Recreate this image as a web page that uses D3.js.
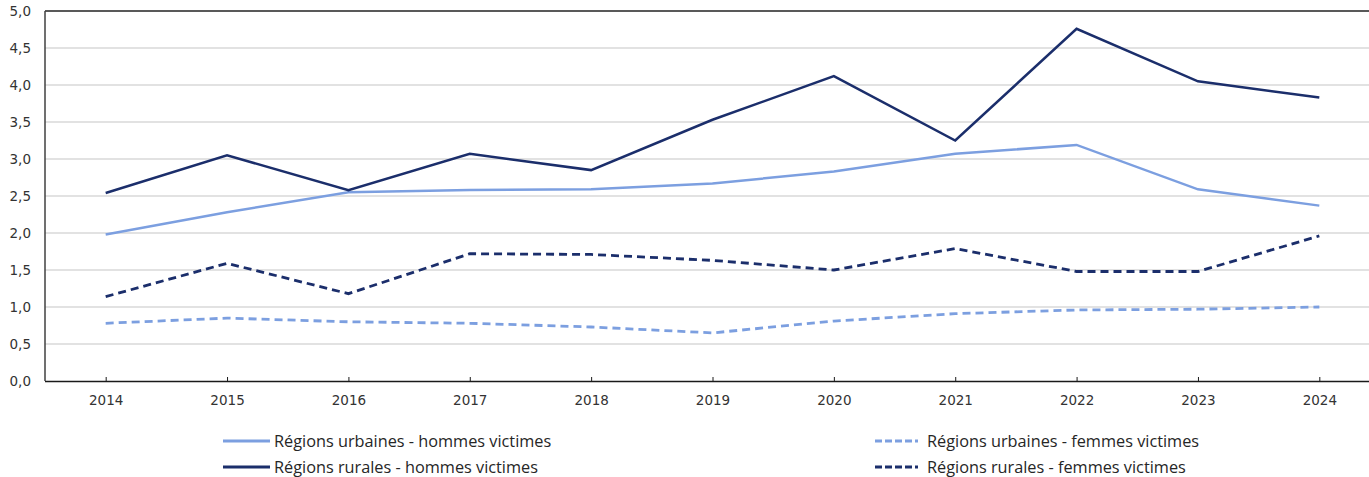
<!DOCTYPE html>
<html>
<head>
<meta charset="utf-8">
<script src="https://cdn.jsdelivr.net/npm/d3@7"></script>
<style>
  html, body { margin: 0; padding: 0; background: #fff; }
  svg { display: block; }
</style>
</head>
<body>
<svg id="chart" width="1369" height="477"></svg>
<script>
const years = ["2014","2015","2016","2017","2018","2019","2020","2021","2022","2023","2024"];
const urbainsHommes = [1.98, 2.28, 2.55, 2.58, 2.59, 2.67, 2.83, 3.07, 3.19, 2.59, 2.37];
const urbainsFemmes = [0.78, 0.85, 0.80, 0.78, 0.73, 0.65, 0.81, 0.91, 0.96, 0.97, 1.00];
const ruralesHommes = [2.54, 3.05, 2.58, 3.07, 2.85, 3.53, 4.12, 3.25, 4.76, 4.05, 3.83];
const ruralesFemmes = [1.14, 1.59, 1.18, 1.72, 1.71, 1.63, 1.50, 1.79, 1.48, 1.48, 1.96];
const yTicks = [0, 0.5, 1, 1.5, 2, 2.5, 3, 3.5, 4, 4.5, 5];
const seriesNames = [
  "Régions urbaines - hommes victimes",
  "Régions urbaines - femmes victimes",
  "Régions rurales - hommes victimes",
  "Régions rurales - femmes victimes"
];

const light = "#7C9FE0", dark = "#1B2E6B";
const series = [
  { name: seriesNames[0], values: urbainsHommes, color: light, dash: null, width: 2.5 },
  { name: seriesNames[1], values: urbainsFemmes, color: light, dash: "8,5", width: 2.8 },
  { name: seriesNames[2], values: ruralesHommes, color: dark, dash: null, width: 2.5 },
  { name: seriesNames[3], values: ruralesFemmes, color: dark, dash: "8,5", width: 2.8 }
];

const svg = d3.select("#chart");
const plotLeft = 45, plotTop = 11, plotBottom = 381, plotRightExt = 1380;

const x = d3.scalePoint().domain(years).range([plotLeft, plotRightExt]).padding(0.5);
const y = d3.scaleLinear().domain([0, 5]).range([plotBottom, plotTop]);

const fmt = v => d3.format(".1f")(v).replace(".", ",");

// gridlines
svg.append("g").selectAll("line").data(yTicks.filter(t => t > 0 && t < 5)).join("line")
  .attr("x1", plotLeft).attr("x2", 1369)
  .attr("y1", d => y(d)).attr("y2", d => y(d))
  .attr("stroke", "#D9D9D9").attr("stroke-width", 1.5);

// top border
svg.append("line").attr("x1", plotLeft).attr("x2", 1369).attr("y1", y(5)).attr("y2", y(5))
  .attr("stroke", "#595959").attr("stroke-width", 2);
// left border
svg.append("line").attr("x1", plotLeft).attr("x2", plotLeft).attr("y1", y(5)).attr("y2", plotBottom)
  .attr("stroke", "#404040").attr("stroke-width", 1.5);

// y axis labels
const yAxis = d3.axisLeft(y).tickValues(yTicks).tickFormat(fmt).tickSize(0).tickPadding(14);
const gy = svg.append("g").attr("transform", `translate(${plotLeft},0)`).call(yAxis);
gy.select(".domain").remove();
gy.selectAll("text").attr("font-family", "'DejaVu Sans', Verdana, sans-serif")
  .attr("font-size", "13.5px").attr("fill", "#333");

// x axis
const xAxis = d3.axisBottom(x).tickSizeInner(-4).tickSizeOuter(0).tickPadding(14);
const gx = svg.append("g").attr("transform", `translate(0,${plotBottom})`).call(xAxis);
gx.select(".domain").attr("d", `M${plotLeft},0.5H1369`).attr("stroke", "#1a1a1a").attr("stroke-width", 1.5);
gx.selectAll(".tick line").attr("stroke", "#1a1a1a");
gx.selectAll("text").attr("font-family", "'DejaVu Sans', Verdana, sans-serif")
  .attr("font-size", "13.5px").attr("fill", "#333");

// lines
const line = d3.line().x((d, i) => x(years[i])).y(d => y(d));
series.forEach(s => {
  svg.append("path").datum(s.values)
    .attr("d", line)
    .attr("fill", "none")
    .attr("stroke", s.color)
    .attr("stroke-width", s.width)
    .attr("stroke-dasharray", s.dash)
    .attr("stroke-linejoin", "miter");
});

// legend
const legendPos = [
  { x: 223, y: 441 },
  { x: 875, y: 441 },
  { x: 223, y: 467 },
  { x: 875, y: 467 }
];
series.forEach((s, i) => {
  const p = legendPos[i];
  const g = svg.append("g").attr("transform", `translate(${p.x},${p.y})`);
  g.append("line").attr("x1", 0).attr("x2", s.dash ? 43 : 47).attr("y1", 0).attr("y2", 0)
    .attr("stroke", s.color).attr("stroke-width", 3)
    .attr("stroke-dasharray", s.dash ? "7,3" : null);
  g.append("text").attr("x", s.dash ? 52 : 51).attr("y", 0).attr("dy", "0.35em")
    .attr("font-family", "'Open Sans', 'Noto Sans', sans-serif")
    .attr("font-size", "16.3px").attr("fill", "#262626")
    .text(s.name);
});
</script>
</body>
</html>
